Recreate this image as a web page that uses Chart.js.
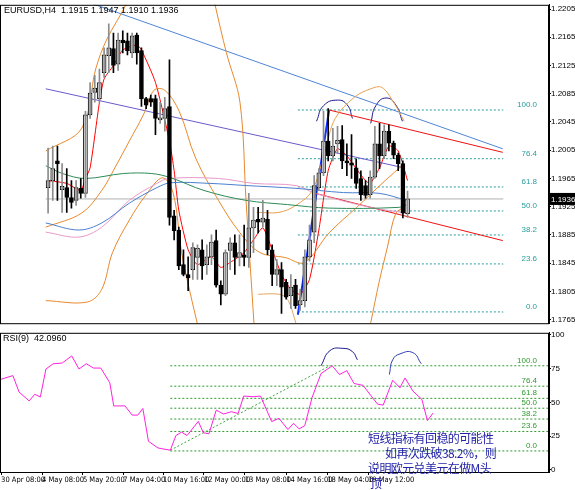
<!DOCTYPE html>
<html>
<head>
<meta charset="utf-8">
<script src="https://cdn.jsdelivr.net/npm/chart.js@4.4.0/dist/chart.umd.min.js"></script>
<style>
  body { margin: 0; background: #fff; width: 575px; height: 490px; overflow: hidden; position: relative; font-family: "Liberation Sans", Arial, sans-serif; }
  .lbl { position: absolute; font-size: 9px; color: #000; white-space: nowrap; }
  .note { position: absolute; font-family: "Noto Sans CJK SC", sans-serif; font-size: 12px; letter-spacing: -0.6px; color: #2424a8; white-space: nowrap; line-height: 15px; }
</style>
</head>
<body>
<canvas id="priceChart" width="575" height="328" style="position:absolute;left:0;top:0"></canvas>
<canvas id="rsiChart" width="575" height="162" style="position:absolute;left:0;top:328px"></canvas>
<div class="lbl" style="left:4px;top:5px">EURUSD,H4&nbsp; 1.1915 1.1947 1.1910 1.1936</div>
<div class="lbl" style="left:3px;top:333px">RSI(9)&nbsp; 42.0960</div>
<div class="note" style="left:368px;top:430px">短线指标有回稳的可能性</div>
<div class="note" style="left:385px;top:445px">如再次跌破38.2%，则</div>
<div class="note" style="left:368px;top:460px">说明欧元兑美元在做M头</div>
<div class="note" style="left:370px;top:475px">顶</div>
<script>
// H4 candles
const openP  = [1.1952,1.1962,1.1990,1.1949,1.1952,1.1938,1.1934,1.1951,1.1944,1.2055,
  1.2087,1.2078,1.2115,1.2139,1.2149,1.2127,1.2161,1.2160,1.2143,1.2168,
  1.2146,1.2078,1.2078,1.2078,1.2048,1.2050,1.2067,1.1912,1.1892,1.1843,
  1.1829,1.1836,1.1853,1.1864,1.1843,1.1854,1.1877,1.1814,1.1801,1.1863,
  1.1874,1.1853,1.1857,1.1853,1.1895,1.1907,1.1903,1.1907,1.1864,1.1829,
  1.1836,1.1818,1.1799,1.1814,1.1786,1.1792,1.1854,1.1889,1.1952,1.1973,
  1.2018,1.1997,1.2014,1.2020,1.1990,1.1987,1.1980,1.1965,1.1955,1.1942,
  1.1967,1.2014,1.1997,1.2032,1.2015,1.1998,1.1986,1.1915];
const closeP = [1.1962,1.1979,1.1986,1.1954,1.1938,1.1931,1.1952,1.1944,1.2055,1.2086,
  1.2093,1.2101,1.2140,1.2150,1.2125,1.2161,1.2157,1.2146,1.2167,1.2143,
  1.2078,1.2069,1.2073,1.2050,1.2051,1.2064,1.1910,1.1891,1.1841,1.1829,
  1.1824,1.1867,1.1866,1.1841,1.1854,1.1875,1.1814,1.1801,1.1860,1.1874,
  1.1853,1.1860,1.1853,1.1895,1.1906,1.1903,1.1909,1.1864,1.1829,1.1836,
  1.1811,1.1797,1.1811,1.1785,1.1792,1.1854,1.1878,1.1955,1.1973,1.2018,
  1.1997,1.2011,1.2019,1.1990,1.1987,1.1984,1.1958,1.1942,1.1941,1.1967,
  1.2014,1.1997,1.2032,1.2015,1.1998,1.1986,1.1916,1.1936];
const highP  = [1.2008,1.2011,1.2011,1.1986,1.1979,1.1962,1.1962,1.1965,1.2060,1.2101,
  1.2111,1.2120,1.2150,1.2184,1.2171,1.2171,1.2174,1.2171,1.2171,1.2171,
  1.2150,1.2080,1.2083,1.2083,1.2073,1.2080,1.2133,1.1920,1.1896,1.1864,
  1.1854,1.1874,1.1871,1.1878,1.1871,1.1885,1.1892,1.1820,1.1864,1.1881,
  1.1885,1.1885,1.1899,1.1944,1.1924,1.1924,1.1934,1.1920,1.1871,1.1850,
  1.1846,1.1822,1.1829,1.1822,1.1808,1.1864,1.1899,1.1969,1.1979,1.2060,
  1.2064,1.2036,1.2039,1.2040,1.2014,1.2027,1.1993,1.1976,1.1962,1.1976,
  1.2039,1.2043,1.2041,1.2041,1.2018,1.2001,1.1990,1.1947];
const lowP   = [1.1916,1.1934,1.1934,1.1917,1.1917,1.1923,1.1927,1.1937,1.1938,1.2050,
  1.2073,1.2073,1.2108,1.2115,1.2115,1.2118,1.2143,1.2140,1.2136,1.2127,
  1.2067,1.2064,1.2067,1.2027,1.2043,1.2032,1.1899,1.1878,1.1836,1.1827,
  1.1806,1.1822,1.1822,1.1822,1.1829,1.1843,1.1811,1.1786,1.1799,1.1836,
  1.1829,1.1841,1.1841,1.1839,1.1860,1.1888,1.1896,1.1857,1.1813,1.1813,
  1.1774,1.1794,1.1781,1.1781,1.1778,1.1783,1.1848,1.1874,1.1948,1.1969,
  1.1990,1.1990,1.2001,1.1979,1.1969,1.1965,1.1951,1.1934,1.1937,1.1937,
  1.1965,1.1979,1.1993,1.2004,1.1993,1.1976,1.1909,1.1910];

// indicator lines as [bar index, value]
const redMa = [[0,1.1962],[4,1.1958],[7,1.1948],[8,1.1965],[9,1.1980],[11,1.2073],[12,1.2106],[14,1.2125],[16,1.2147],[19,1.2154],[20,1.2147],[23,1.2101],[26,1.2018],[27,1.1976],[28,1.1920],[30,1.1864],[32,1.1843],[35,1.1854],[37,1.1839],[39,1.1846],[42,1.1860],[44,1.1878],[46,1.1895],[48,1.1864],[50,1.1829],[52,1.1808],[54,1.1801],[56,1.1822],[58,1.1892],[60,1.1976],[62,1.2007],[64,1.1997],[66,1.1979],[68,1.1962],[69,1.1958],[71,1.1980],[73,1.2011],[75,1.2004],[77,1.1962]];
const bandUpLeft = [[-0.5,1.2004],[7.2,1.2036],[10.2,1.2120],[12.5,1.2161],[16.8,1.2213],[24,1.2325],[32,1.2325],[35.7,1.2213],[38.2,1.2143],[41.1,1.2073],[42.4,1.1934],[44.1,1.1760]];
const bandRight = [[69.1,1.1760],[70.9,1.1818],[72.7,1.1868],[74.5,1.1916],[76.3,1.1924]];
const bandLowLeft = [[-0.5,1.1792],[8.4,1.1790],[11.5,1.1808],[13.8,1.1860],[17.4,1.1906],[20.9,1.1941],[24.5,1.1966],[26.8,1.1944],[28.6,1.1860],[30.4,1.1804],[32.2,1.1753]];
const bandMid = [[-0.5,1.1896],[7.2,1.1916],[11.5,1.1948],[14.3,1.1980],[17.4,1.2018],[20.4,1.2055],[22.7,1.2090],[25.0,1.2090],[28.1,1.2060],[31.6,1.1994],[36.5,1.1934],[41.1,1.1888],[45.4,1.1860],[50.8,1.1853],[54.9,1.1846],[60.2,1.1888],[66.1,1.1924],[72.2,1.1962],[76.3,1.1986]];
const bandUpRight = [[44.7,1.1917],[49.5,1.1917],[53.1,1.1927],[56.6,1.1948],[59.3,1.2004],[61.5,1.2050],[65.6,1.2080],[69.1,1.2092],[71.5,1.2094],[74.0,1.2073],[76.3,1.2046]];
const bandLowMid = [[45,1.1801],[49.5,1.1801],[51.3,1.1794],[53.1,1.1760]];
const greenMa = [[-0.5,1.1983],[3.1,1.1972],[7.9,1.1965],[16.1,1.1972],[22.2,1.1972],[26.3,1.1966],[33.4,1.1948],[42.4,1.1934],[51.3,1.1928],[60.2,1.1923],[75.0,1.1924],[76.8,1.1928]];
const blueMa = [[-0.5,1.1902],[6.6,1.1892],[11.5,1.1902],[17.4,1.1930],[23.3,1.1952],[26.3,1.1959],[34.7,1.1958],[42.4,1.1955],[53.1,1.1951],[63.3,1.1945],[70.9,1.1944],[76.8,1.1934]];
const pinkMa = [[-0.5,1.1889],[6.6,1.1882],[11.5,1.1896],[17.4,1.1934],[23.3,1.1958],[25.8,1.1965],[36.5,1.1965],[44.1,1.1958],[53.1,1.1955],[57.2,1.1944],[69.1,1.1924],[76.8,1.1916]];
const longTrend = [[9.3,1.2213],[97.4,1.2007]];
const purpleTrend = [[-0.5,1.2092],[76.3,1.1980]];
const channelTop = [[60.2,1.2062],[97.4,1.2002]];
const channelBottom = [[57.2,1.1944],[97.4,1.1877]];
const impulse = [[53.5,1.1772],[60.2,1.2062]];
const arcOne = [[57.5,1.2046],[59.0,1.2068],[62.0,1.2076],[64.1,1.2069],[65.2,1.2050]];
const arcTwo = [[69.1,1.2043],[70.2,1.2068],[72.4,1.2079],[74.5,1.2069],[75.9,1.2046]];
const fibNames = ['100.0','76.4','61.8','50.0','38.2','23.6','0.0'];
const fibPrice = [1.2062,1.1993,1.1953,1.1919,1.1885,1.1844,1.1776];
const priceTicks = [1.2205,1.2165,1.2125,1.2085,1.2045,1.2005,1.1965,1.1925,1.1885,1.1845,1.1805,1.1765];
const lastPrice = 1.1936;

// RSI(9)
const rsiLine = [[-0.5,66.9],[1.8,69.8],[2.9,57.7],[4.7,51.1],[5.7,56],[6.7,54],[7.7,74.7],[9.0,78.6],[10.6,79.1],[12.3,84.4],[13.6,74.7],[14.9,78.6],[16.2,75.4],[17.5,75.4],[19.1,64.5],[19.8,47.4],[21.8,47.4],[23.1,40.6],[24.1,40.6],[25.0,45.5],[26.0,21.2],[27.7,16.3],[29.9,14.6],[30.9,25.5],[31.9,28],[32.9,25.5],[34.9,36],[35.8,27.5],[36.8,26.8],[38.1,44.3],[39.4,41.4],[40.8,43.1],[42.0,41.8],[43.0,54.7],[44.7,54.2],[46.0,54.7],[48.0,35.8],[49.3,38.2],[50.9,29.9],[51.9,34.5],[52.9,30.4],[53.9,32.8],[55.2,53.5],[56.8,71.3],[58.8,77.1],[60.1,70.6],[61.4,73.5],[62.7,64],[64.3,62.6],[66.9,48.7],[67.9,48],[69.6,66.4],[70.9,60.8],[71.8,68.1],[73.2,58.4],[74.8,52.3],[75.8,36.5],[76.8,42.1]];
const rsiFibNames = ['100.0','76.4','61.8','50.0','38.2','23.6','0.0'];
const rsiFibValue = [77.1,62,53,45.7,37.7,28.5,14.1];
const rsiDiag = [[29.9,14.6],[58.4,77.1]];
const rsiArcOne = [[56.8,77.1],[58.4,88.3],[60.7,90],[62.4,87.6],[63.3,81.5]];
const rsiArcTwo = [[69.0,70.6],[69.6,81.5],[70.9,85.9],[73.2,86.8],[74.7,78.6]];
const rsiTicks = [0,25,50,75,100];
const timeLabels = ['30 Apr 08:00','4 May 08:00','5 May 20:00','7 May 04:00','10 May 16:00','12 May 00:00','13 May 08:00','14 May 16:00','18 May 04:00','19 May 12:00'];
const timeLabelAt = [-0.3,7.0,14.3,21.5,28.6,35.9,43.2,50.6,57.9,65.2];

const X_MIN = -0.5, X_MAX = 97.5;
const AXIS_FONT = { family: 'Liberation Sans', size: 8 };
const NARROW_FONT = { family: '"Liberation Sans Narrow", "DejaVu Sans Condensed", sans-serif', size: 7.5 };

function pts(arr) { return arr.map(p => ({ x: p[0], y: p[1] })); }
function line(arr, color, extra) {
  return Object.assign({ type: 'line', data: pts(arr), borderColor: color, borderWidth: 1,
    pointRadius: 0, fill: false, tension: 0.35, order: 2 }, extra || {});
}

const frame = {
  id: 'frame',
  afterDraw(chart, args, opts) {
    const { ctx, chartArea: a } = chart;
    ctx.save();
    ctx.strokeStyle = '#000';
    ctx.lineWidth = 1;
    ctx.strokeRect(a.left + 0.5, a.top + 0.5, a.right - a.left - 1, a.bottom - a.top);
    const y = chart.scales.y;
    ctx.font = '8px "Liberation Sans"';
    ctx.textAlign = 'right';
    ctx.fillStyle = opts.color;
    opts.names.forEach((n, i) => {
      ctx.fillText(n, a.right - 12, y.getPixelForValue(opts.values[i]) - 3);
    });
    if (opts.last) {
      const py = y.getPixelForValue(opts.last);
      ctx.fillStyle = '#000';
      ctx.fillRect(a.right + 1, py - 6, 26, 12);
      ctx.fillStyle = '#fff';
      ctx.textAlign = 'left';
      ctx.fillText(opts.last.toFixed(4), a.right + 2, py + 3);
    }
    ctx.restore();
  }
};

const idx = openP.map((_, i) => i);
const candleWicks = {
  type: 'bar', grouped: false, order: 0,
  data: idx.map(i => ({ x: i, y: [lowP[i], highP[i]] })),
  backgroundColor: idx.map(i => closeP[i] >= openP[i] ? '#8c8c8c' : '#000'),
  barThickness: 1
};
const candleBodies = {
  type: 'bar', grouped: false, order: 0,
  data: idx.map(i => ({ x: i, y: [openP[i], closeP[i] === openP[i] ? openP[i] + 0.00005 : closeP[i]] })),
  backgroundColor: idx.map(i => closeP[i] >= openP[i] ? '#fff' : '#000'),
  borderColor: '#000', borderWidth: 1, borderSkipped: false,
  barThickness: 4
};

const fibSets = fibPrice.map(v => line([[53.5, v], [97.5, v]], '#2a9d9d', { borderDash: [2, 2], tension: 0, order: 3 }));

new Chart(document.getElementById('priceChart'), {
  data: {
    datasets: [
      candleWicks, candleBodies,
      line([[X_MIN, lastPrice], [X_MAX, lastPrice]], '#b0b0b0', { tension: 0, order: 4 }),
      ...fibSets,
      line(greenMa, '#2e8b57'),
      line(blueMa, '#4a7fd0'),
      line(pinkMa, '#e79ac8'),
      line(bandUpLeft, '#e8892c'),
      line(bandRight, '#e8892c'),
      line(bandLowLeft, '#e8892c'),
      line(bandMid, '#e8892c'),
      line(bandUpRight, '#e8a050'),
      line(bandLowMid, '#e0a860'),
      line(longTrend, '#4f86d6', { tension: 0 }),
      line(purpleTrend, '#6a5acd', { tension: 0 }),
      line(channelTop, '#ee1111', { tension: 0 }),
      line(channelBottom, '#ee1111', { tension: 0 }),
      line(impulse, '#1030ff', { tension: 0, borderWidth: 2 }),
      line(redMa, '#ff0000', { tension: 0.2 }),
      line(arcOne, '#1a1a8c', { tension: 0.5 }),
      line(arcTwo, '#1a1a8c', { tension: 0.5 })
    ]
  },
  options: {
    responsive: false, animation: false, devicePixelRatio: 1,
    layout: { padding: { top: 1, bottom: 2 } },
    plugins: { legend: { display: false }, tooltip: { enabled: false },
      frame: { names: fibNames, values: fibPrice, color: '#2a9d9d', last: lastPrice } },
    scales: {
      x: { type: 'linear', min: X_MIN, max: X_MAX, display: false },
      y: {
        position: 'right', min: 1.1760, max: 1.2211,
        afterFit: s => { s.width = 26; },
        afterBuildTicks: s => { s.ticks = priceTicks.map(v => ({ value: v })); },
        grid: { drawOnChartArea: false, tickLength: 2, color: '#000' },
        border: { color: '#000' },
        ticks: { color: '#000', font: AXIS_FONT, padding: 0, callback: v => v.toFixed(4) }
      }
    }
  },
  plugins: [frame]
});

const rsiFibSets = rsiFibValue.map(v => line([[29.9, v], [97.5, v]], '#2f9a2f', { borderDash: [2, 2], tension: 0, order: 3 }));

new Chart(document.getElementById('rsiChart'), {
  data: {
    datasets: [
      ...rsiFibSets,
      line(rsiDiag, '#3aa63a', { borderDash: [2, 2], tension: 0 }),
      line(rsiLine, '#ff22dd', { tension: 0, order: 1 }),
      line(rsiArcOne, '#1a1a8c', { tension: 0.5 }),
      line(rsiArcTwo, '#3040b0', { tension: 0.5 })
    ]
  },
  options: {
    responsive: false, animation: false, devicePixelRatio: 1,
    layout: { padding: { top: 2 } },
    plugins: { legend: { display: false }, tooltip: { enabled: false },
      frame: { names: rsiFibNames, values: rsiFibValue, color: '#2f9a2f' } },
    scales: {
      x: {
        type: 'linear', min: X_MIN, max: X_MAX,
        afterFit: s => { s.height = 18; },
        afterBuildTicks: s => { s.ticks = timeLabelAt.map(v => ({ value: v })); },
        grid: { drawOnChartArea: false, tickLength: 3, color: '#000' },
        border: { color: '#000' },
        ticks: { color: '#000', font: NARROW_FONT, align: 'start', maxRotation: 0, autoSkip: false, padding: 1,
          callback: v => timeLabels[timeLabelAt.indexOf(v)] }
      },
      y: {
        position: 'right', min: -1.5, max: 101.5,
        afterFit: s => { s.width = 26; },
        afterBuildTicks: s => { s.ticks = rsiTicks.map(v => ({ value: v })); },
        grid: { drawOnChartArea: false, tickLength: 2, color: '#000' },
        border: { color: '#000' },
        ticks: { color: '#000', font: AXIS_FONT, padding: 0 }
      }
    }
  },
  plugins: [frame]
});
</script>
</body>
</html>
